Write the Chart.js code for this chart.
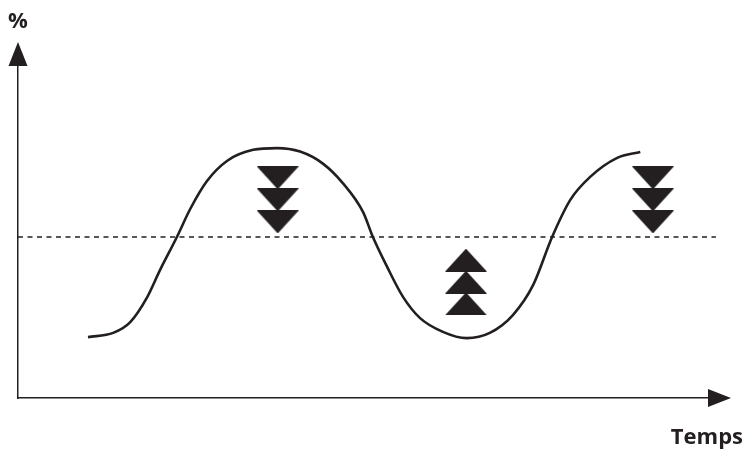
<!DOCTYPE html>
<html>
<head>
<meta charset="utf-8">
<script src="https://cdn.jsdelivr.net/npm/chart.js@4"></script>
<style>
  html, body { margin: 0; padding: 0; background: #fff; }
  #wrap { width: 745px; height: 450px; }
</style>
</head>
<body>
<div id="wrap"><canvas id="chart" width="745" height="450"></canvas></div>
<script>
// Courbe (temps, %)
const curveX = [10, 13.6, 16, 18.4, 20.3, 22.7, 24.6, 27, 29.9, 33.6, 37, 40.3, 43.6, 46.4, 49.3,
                50.7, 52.7, 55, 57.4, 60.7, 64.1, 67.4, 70.7, 73.6, 76.3, 78.9, 81.7, 85.6, 88.9];
const curveY = [17.4, 18.6, 21.6, 28.6, 36.6, 46, 54, 62, 67.8, 70.9, 71.4, 70.4, 66.9, 61.4, 53.1,
                46, 37.6, 28.9, 22.9, 18.9, 17.1, 18.6, 23.7, 32.3, 46, 56.6, 63.1, 68.6, 70.3];

// Seuil en pointillés
const thresholdX = [0, 99.7];
const thresholdY = [46, 46];

// Flèches descendantes (pics) et montantes (creux)
const downX = [37.1, 37.1, 37.1, 90.7, 90.7, 90.7];
const downY = [62.9, 56.6, 50.3, 62.9, 56.6, 50.3];
const upX = [64, 64, 64];
const upY = [39.4, 33.1, 26.9];

const axisLabelY = '%';
const axisLabelX = 'Temps';

const INK = '#231f20';

function toPoints(xs, ys) { return xs.map((x, i) => ({ x, y: ys[i] })); }

function triangleImage(down) {
  const c = document.createElement('canvas');
  c.width = 42; c.height = 23;
  const g = c.getContext('2d');
  g.fillStyle = INK;
  g.beginPath();
  if (down) { g.moveTo(0, 0); g.lineTo(42, 0); g.lineTo(21, 23); }
  else { g.moveTo(21, 0); g.lineTo(42, 23); g.lineTo(0, 23); }
  g.closePath();
  g.fill();
  return c;
}

// Flèches des axes + libellés
const axesDecor = {
  id: 'axesDecor',
  afterDraw(chart) {
    const { ctx, chartArea: a } = chart;
    ctx.save();
    ctx.fillStyle = INK;
    // flèche verticale
    ctx.beginPath();
    ctx.moveTo(a.left, 42);
    ctx.lineTo(a.left + 9.5, 66);
    ctx.lineTo(a.left - 9.5, 66);
    ctx.closePath();
    ctx.fill();
    // flèche horizontale
    ctx.beginPath();
    ctx.moveTo(731, a.bottom);
    ctx.lineTo(708, a.bottom - 9);
    ctx.lineTo(708, a.bottom + 9);
    ctx.closePath();
    ctx.fill();
    ctx.font = 'bold 22px "Open Sans", "DejaVu Sans", sans-serif';
    ctx.textBaseline = 'alphabetic';
    ctx.textAlign = 'left';
    ctx.fillText(axisLabelY, 8, 28);
    ctx.textAlign = 'right';
    ctx.fillText(axisLabelX, 743, 444);
    ctx.restore();
  }
};

new Chart(document.getElementById('chart'), {
  type: 'scatter',
  data: {
    datasets: [
      {
        data: toPoints(curveX, curveY),
        showLine: true,
        borderColor: INK,
        borderWidth: 2.6,
        pointRadius: 0,
        cubicInterpolationMode: 'monotone'
      },
      {
        data: toPoints(thresholdX, thresholdY),
        showLine: true,
        borderColor: INK,
        borderWidth: 1.4,
        borderDash: [5, 4.5],
        pointRadius: 0
      },
      {
        data: toPoints(downX, downY),
        pointStyle: triangleImage(true),
        showLine: false
      },
      {
        data: toPoints(upX, upY),
        pointStyle: triangleImage(false),
        showLine: false
      }
    ]
  },
  options: {
    responsive: false,
    animation: false,
    clip: false,
    layout: { padding: { left: 18, top: 48, right: 27, bottom: 52 } },
    plugins: { legend: { display: false }, tooltip: { enabled: false } },
    scales: {
      x: {
        type: 'linear', min: 0, max: 100,
        grid: { display: false, drawTicks: false },
        ticks: { display: false },
        border: { display: true, color: INK, width: 1.5 }
      },
      y: {
        type: 'linear', min: 0, max: 100,
        grid: { display: false, drawTicks: false },
        ticks: { display: false },
        border: { display: true, color: INK, width: 1.5 }
      }
    }
  },
  plugins: [axesDecor]
});
</script>
</body>
</html>
